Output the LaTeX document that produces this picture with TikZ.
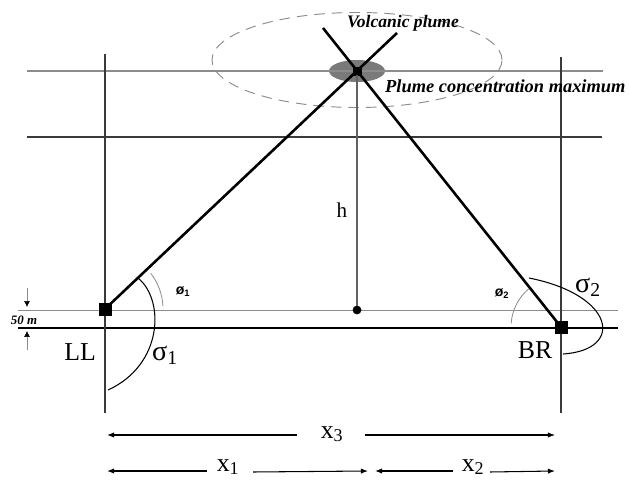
\documentclass[tikz,border=0pt]{standalone}
\usepackage{fontspec}
\setmainfont{Liberation Serif}
\newfontfamily\anglefont{Liberation Sans}
\usetikzlibrary{arrows.meta,positioning,shapes.geometric}
\definecolor{vpgrey}{HTML}{8C8C8C}
\definecolor{vpdark}{HTML}{3A3A3A}
\definecolor{vpspot}{HTML}{7A7A7A}
\tikzset{
  station/.style={draw, fill=black, rectangle, inner sep=0pt, minimum size=10pt},
  beam/.style={line width=2.2pt, black},
  pole/.style={line width=1.1pt, vpdark},
  faintline/.style={line width=1.1pt, vpgrey},
  dimarrow/.style={line width=0.9pt, -{Latex[length=6pt, width=4.5pt]}},
  anglearc/.style={line width=0.7pt, vpgrey},
  sigmaarc/.style={line width=0.9pt, black}
}

\begin{document}
\begin{tikzpicture}[x=0.03cm, y=0.03cm, every node/.style={font=\normalsize}]
      \useasboundingbox (0,0) rectangle (629,480);
      \node[draw=vpgrey, dashed, dash pattern=on 9pt off 6pt, line width=0.8pt, ellipse, minimum width=8.7cm, minimum height=2.85cm] (plume) at (357,420) {};
      \node[ellipse, fill=vpspot, minimum width=1.68cm, minimum height=0.66cm] (spot) at (357,409) {};
      \coordinate (topL) at (27,409);
      \coordinate (topR) at (603,409);
      \coordinate (midL) at (27,343);
      \coordinate (midR) at (602,343);
      \coordinate (baseL) at (18,170);
      \coordinate (baseR) at (618,170);
      \coordinate (groundL) at (18,152);
      \coordinate (groundR) at (618,152);
      \coordinate (poleLtop) at (105,426);
      \coordinate (poleLbot) at (105,67);
      \coordinate (poleRtop) at (561,423);
      \coordinate (poleRbot) at (561,67);
      \coordinate (armL) at (397,447);
      \coordinate (armR) at (323,452);
      \draw[faintline] (topL) -- (topR);
      \draw[pole, line width=1pt] (midL) -- (midR);
      \draw[faintline, line width=0.8pt] (baseL) -- (baseR);
      \draw[pole, black, line width=1.2pt] (groundL) -- (groundR);
      \draw[pole] (poleLtop) -- (poleLbot);
      \draw[pole] (poleRtop) -- (poleRbot);
      \node[station] (LL) at (105,171) {};
      \node[station] (BR) at (561,153) {};
      \node[station, minimum size=7pt] (apex) at (357,409) {};
      \node[draw, circle, fill=black, inner sep=0pt, minimum size=7pt] (foot) at (357,170) {};
      \draw[pole, vpdark!80] (apex) -- (foot);
      \draw[beam] (LL.center) -- (armL);
      \draw[beam] (BR.center) -- (armR);
      \draw[anglearc] ([shift={(3:58)}]LL.center) arc[start angle=3, end angle=38, radius=58];
      \draw[anglearc] ([shift={(130:50)}]BR.center) arc[start angle=130, end angle=176, radius=50];
      \draw[sigmaarc] (138,202) .. controls (165,180) and (163,115) .. (108,90);
      \draw[sigmaarc] (529,202) .. controls (615,185) and (625,130) .. (563,126);
      \node[font=\fontsize{15}{17}\selectfont\bfseries\itshape] (plumelab) at (403,457) {Volcanic plume};
      \node[font=\fontsize{15.7}{17}\selectfont\bfseries\itshape, anchor=west, inner sep=0pt] (maxlab) at (385,394) {Plume concentration maximum};
      \node[font=\fontsize{18}{20}\selectfont] (hlab) at (342,270) {h};
      \node[font=\fontsize{22}{24}\selectfont] (LLlab) at (80,128) {LL};
      \node[font=\fontsize{22}{24}\selectfont] (BRlab) at (535,130) {BR};
      \node[font=\fontsize{24}{26}\selectfont] (sig1) at (165,125) {σ\textsubscript{1}};
      \node[font=\fontsize{24}{26}\selectfont] (sig2) at (588,193) {σ\textsubscript{2}};
      \node[font=\fontsize{12}{14}\selectfont\anglefont\bfseries] (phi1) at (183,188) {ø\textsubscript{1}};
      \node[font=\fontsize{12}{14}\selectfont\anglefont\bfseries] (phi2) at (502,186) {ø\textsubscript{2}};
      \node[font=\fontsize{11}{13}\selectfont\bfseries\itshape, inner sep=0pt] (gap) at (24,160) {50 m};
      \coordinate (gapUa) at (27,192);
      \coordinate (gapUb) at (27,173);
      \coordinate (gapDa) at (27,130);
      \coordinate (gapDb) at (27,149);
      \draw[anglearc, line width=0.5pt, -{Latex[length=5pt, width=5pt, color=black]}] (gapUa) -- (gapUb);
      \draw[anglearc, line width=0.5pt, -{Latex[length=5pt, width=5pt, color=black]}] (gapDa) -- (gapDb);
      \node[font=\fontsize{22}{24}\selectfont] (x3) at (332,46) {x\textsubscript{3}};
      \node[font=\fontsize{22}{24}\selectfont] (x1) at (228,13) {x\textsubscript{1}};
      \node[font=\fontsize{22}{24}\selectfont] (x2) at (473,13) {x\textsubscript{2}};
      \coordinate (x3a) at (297,45);
      \coordinate (x3b) at (107,45);
      \coordinate (x3c) at (365,45);
      \coordinate (x3d) at (555,45);
      \coordinate (x1a) at (207,9);
      \coordinate (x1b) at (107,9);
      \coordinate (x1c) at (253,8);
      \coordinate (x1d) at (368,9);
      \coordinate (x2a) at (453,9);
      \coordinate (x2b) at (375,9);
      \coordinate (x2c) at (490,8);
      \coordinate (x2d) at (555,9);
      \draw[dimarrow] (x3a) -- (x3b);
      \draw[dimarrow] (x3c) -- (x3d);
      \draw[dimarrow] (x1a) -- (x1b);
      \draw[dimarrow] (x1c) -- (x1d);
      \draw[dimarrow] (x2a) -- (x2b);
      \draw[dimarrow] (x2c) -- (x2d);
    \end{tikzpicture}
\end{document}
